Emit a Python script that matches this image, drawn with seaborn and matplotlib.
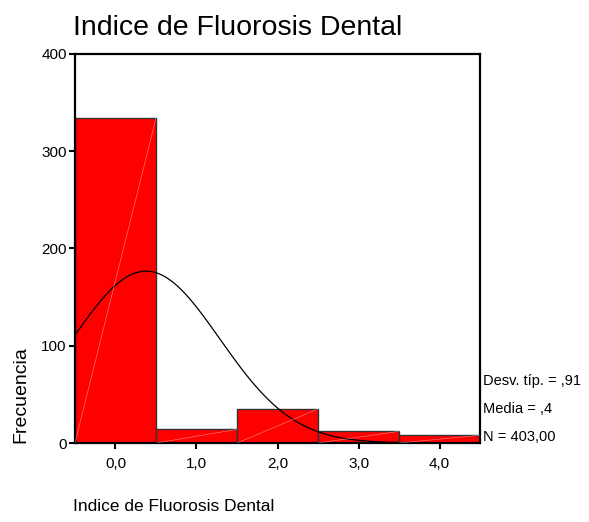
import numpy as np
import pandas as pd
import seaborn as sns
import matplotlib
matplotlib.use('Agg')
import matplotlib.pyplot as plt

# Indice de Fluorosis Dental - frecuencias por categoria
categorias = [0, 1, 2, 3, 4]
frecuencias = [334, 14, 35, 12, 8]
tick_labels = ["0,0", "1,0", "2,0", "3,0", "4,0"]
stats_labels = ["Desv. típ. = ,91", "Media = ,4", "N = 403,00"]

sns.set_style("white")
plt.rcParams['font.family'] = ['Liberation Sans', 'DejaVu Sans']
plt.rcParams['text.color'] = 'black'
plt.rcParams['xtick.color'] = 'black'
plt.rcParams['ytick.color'] = 'black'

df = pd.DataFrame({"valor": categorias, "n": frecuencias})
n_total = df["n"].sum()
media = np.average(df["valor"], weights=df["n"])
desv = np.sqrt(np.average((df["valor"] - media) ** 2, weights=df["n"]) * n_total / (n_total - 1))

fig = plt.figure(figsize=(5.89, 5.22), dpi=100)
ax = fig.add_axes([0.1273, 0.1513, 0.6877, 0.7453])

sns.histplot(data=df, x="valor", weights="n", discrete=True,
             color="#ff0000", edgecolor="#333333", linewidth=1.0, alpha=1.0, ax=ax)

# faint white diagonals inside the bars (SPSS rendering artifact)
for v, c in zip(categorias, frecuencias):
    ax.plot([v - 0.5, v + 0.5], [0, c], color="white", lw=0.5, alpha=0.45, zorder=3)

# normal curve
xs = np.linspace(-0.5, 4.5, 300)
ys = n_total / (desv * np.sqrt(2 * np.pi)) * np.exp(-0.5 * ((xs - media) / desv) ** 2)
sns.lineplot(x=xs, y=ys, color="black", lw=0.9, ax=ax)

ax.set_xlim(-0.5, 4.5)
ax.set_ylim(0, 400)
ax.set_xticks(categorias)
ax.set_xticklabels(tick_labels)
ax.set_yticks([0, 100, 200, 300, 400])
ax.tick_params(axis="both", labelsize=11, length=4, width=1.5, direction="out",
               bottom=True, left=True, color="black")
ax.tick_params(axis="x", pad=6)
ax.tick_params(axis="y", pad=2)
for s in ax.spines.values():
    s.set_visible(True)
    s.set_color("black")
    s.set_linewidth(1.6)

ax.set_xlabel("")
ax.set_ylabel("")
fig.text(0.036, 0.152, "Frecuencia", rotation=90, fontsize=14, ha="center", va="bottom")
fig.text(0.124, 0.016, "Indice de Fluorosis Dental", fontsize=12.5, ha="left", va="bottom")
fig.text(0.124, 0.922, "Indice de Fluorosis Dental", fontsize=20.5, ha="left", va="bottom")

for i, t in enumerate(stats_labels):
    fig.text(0.82, 0.27 - i * 0.054, t, fontsize=10.5, ha="left", va="center")

fig.savefig("out.png", dpi=100)
